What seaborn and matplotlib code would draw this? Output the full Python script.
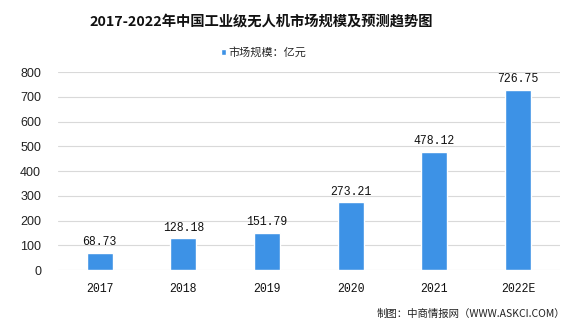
import matplotlib
matplotlib.use("Agg")
import matplotlib.pyplot as plt
import seaborn as sns
import pandas as pd

years = ["2017", "2018", "2019", "2020", "2021", "2022E"]
values = [68.73, 128.18, 151.79, 273.21, 478.12, 726.75]
yticks = [0, 100, 200, 300, 400, 500, 600, 700, 800]
title = "2017-2022年中国工业级无人机市场规模及预测趋势图"
legend_label = "市场规模：亿元"
source = "制图：中商情报网（WWW.ASKCI.COM）"

sns.set_theme(style="white")
plt.rcParams['font.family'] = ['Noto Sans CJK SC', 'DejaVu Sans']
mono = ['Liberation Mono', 'Noto Sans CJK SC']

df = pd.DataFrame({"year": years, "value": values})

fig = plt.figure(figsize=(5.72, 3.29), dpi=100)
ax = fig.add_axes([0.101, 0.179, 0.878, 0.602])
color = "#3d92e6"
sns.barplot(data=df, x="year", y="value", color=color, width=0.31, ax=ax,
            saturation=1, zorder=3, label=legend_label)

ax.set_ylim(0, 800)
ax.set_yticks(yticks)
ax.set_yticklabels([str(t) for t in yticks], fontsize=9, color="#222222",
                   family=['Liberation Sans'])
for lbl in ax.get_xticklabels():
    lbl.set_family(mono)
    lbl.set_fontsize(8.3)
    lbl.set_color("#111111")
ax.tick_params(axis='x', pad=9, length=0)
ax.tick_params(axis='y', length=0, pad=12)
ax.grid(axis='y', color="#d9d9d9", linewidth=0.8, zorder=0)
for s in ax.spines.values():
    s.set_visible(False)
ax.set_xlabel("")
ax.set_ylabel("")

for i, v in enumerate(values):
    ax.text(i, v + 19, f"{v:.2f}", ha="center", va="bottom", fontsize=8.3,
            color="#111111", family=mono)

fig.text(0.457, 0.935, title, ha="center", va="center", fontsize=10.3,
         fontweight="bold", color="#111111")
leg = ax.legend(loc="center", bbox_to_anchor=(0.41, 1.10), frameon=False,
                prop={'size': 8}, handlelength=0.5, handleheight=0.5,
                handletextpad=0.2)
fig.text(0.988, 0.045, source, ha="right", va="center", fontsize=7.5, color="#222222")

fig.savefig("out.png", dpi=100)
